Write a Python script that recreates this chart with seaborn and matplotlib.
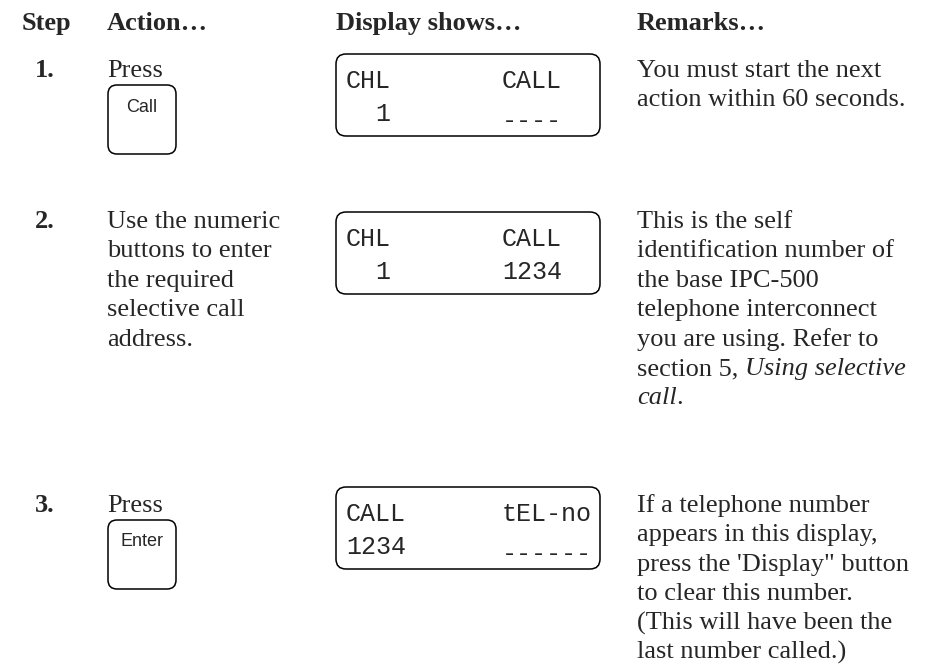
import matplotlib.pyplot as plt
import seaborn as sns
from matplotlib.patches import FancyBboxPatch

sns.set_theme(style='white')
plt.rcParams['font.family'] = ['Liberation Serif', 'DejaVu Serif']

# Table content
headers = ['Step', 'Action…', 'Display shows…', 'Remarks…']
steps = ['1.', '2.', '3.']
buttons = ['Call', None, 'Enter']
actions = [
    ['Press'],
    ['Use the numeric', 'buttons to enter', 'the required', 'selective call', 'address.'],
    ['Press'],
]
lcd_left = [['CHL', '  1'], ['CHL', '  1'], ['CALL', '1234']]
lcd_right = [['CALL', '----'], ['CALL', '1234'], ['tEL-no', '------']]
remarks = [
    [[('You must start the next', 'normal')],
     [('action within 60 seconds.', 'normal')]],
    [[('This is the self', 'normal')],
     [('identification number of', 'normal')],
     [('the base IPC-500', 'normal')],
     [('telephone interconnect', 'normal')],
     [('you are using. Refer to', 'normal')],
     [('section 5, ', 'normal'), ('Using selective', 'italic')],
     [('call', 'italic'), ('.', 'normal')]],
    [[('If a telephone number', 'normal')],
     [('appears in this display,', 'normal')],
     [("press the 'Display\" button", 'normal')],
     [('to clear this number.', 'normal')],
     [('(This will have been the', 'normal')],
     [('last number called.)', 'normal')]],
]

# Layout (pixels)
W, H = 934, 672
col_x = [22, 107, 336, 637]
step_x = 35
header_y = 30
row_base = [77, 228, 512]
lcd_top = [54, 212, 487]
line_gap = 29.4
body_size = 19

fig = plt.figure(figsize=(W / 100, H / 100), dpi=100)
ax = fig.add_axes([0, 0, 1, 1])
ax.set_xlim(0, W)
ax.set_ylim(H, 0)
ax.axis('off')
renderer = fig.canvas.get_renderer()

for x, h in zip(col_x, headers):
    ax.text(x, header_y, h, fontsize=body_size, fontweight='bold', va='baseline')

lcd_font = dict(fontsize=18, family='Liberation Mono', va='baseline')

for i in range(3):
    y0 = row_base[i]
    ax.text(step_x, y0, steps[i], fontsize=body_size, fontweight='bold', va='baseline')

    for k, line in enumerate(actions[i]):
        ax.text(col_x[1], y0 + k * line_gap, line, fontsize=body_size, va='baseline')

    if buttons[i]:
        by = y0 + 8
        ax.add_patch(FancyBboxPatch((col_x[1] + 1, by), 68, 69,
                                    boxstyle='round,pad=0,rounding_size=9',
                                    fc='white', ec='black', lw=1.1))
        ax.text(col_x[1] + 35, by + 22, buttons[i], fontsize=13,
                family='Liberation Sans', ha='center', va='center')

    # LCD display
    t = lcd_top[i]
    ax.add_patch(FancyBboxPatch((col_x[2], t), 264, 82,
                                boxstyle='round,pad=0,rounding_size=10',
                                fc='white', ec='black', lw=1.1))
    for k, dy in enumerate([34, 67]):
        for dx, txt in [(10, lcd_left[i][k]), (166, lcd_right[i][k])]:
            # blank-field dashes sit on the bottom segment of the LCD
            shift = 7 if set(txt) == {'-'} else 0
            ax.text(col_x[2] + dx, t + dy + shift, txt, **lcd_font)

    # remarks with mixed styles
    for k, segs in enumerate(remarks[i]):
        x = col_x[3]
        for txt, style in segs:
            tt = ax.text(x, y0 + k * line_gap, txt, fontsize=body_size,
                         style=style, va='baseline')
            x += tt.get_window_extent(renderer).width

fig.savefig('out.png', dpi=100)
